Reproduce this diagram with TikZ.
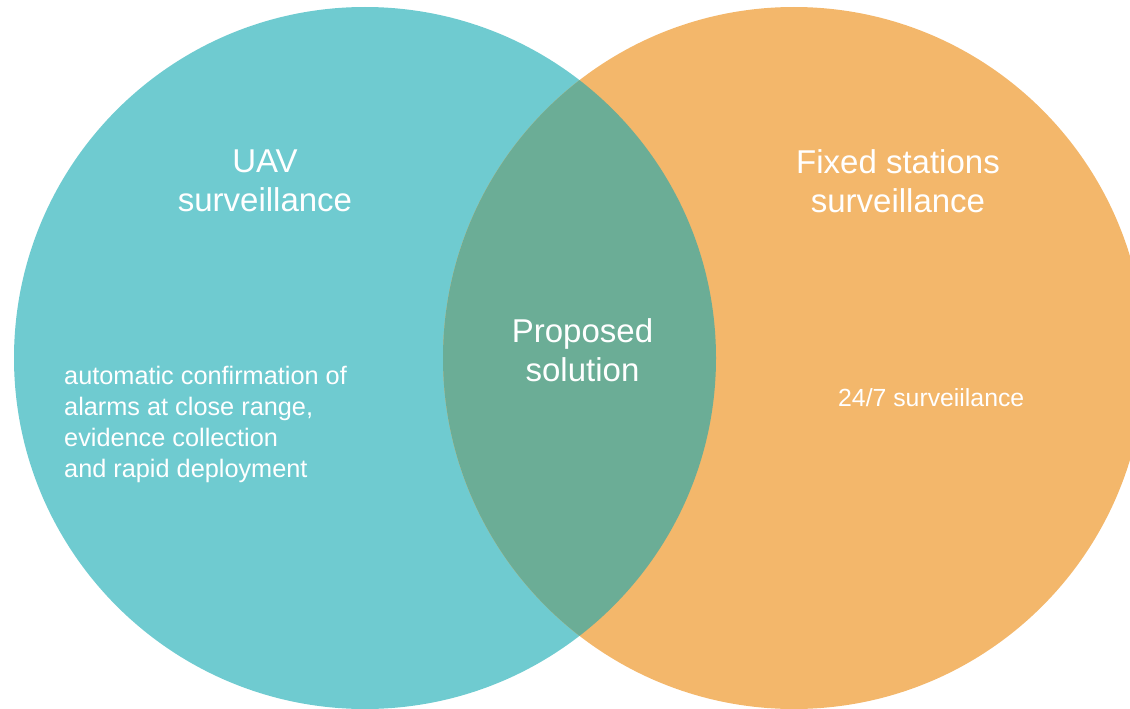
\documentclass[tikz,border=0pt]{standalone}
\usepackage{fontspec}
\setmainfont{Liberation Sans}
\definecolor{uavteal}{HTML}{6FCBD0}
\definecolor{fixedorange}{HTML}{F3B76B}
\definecolor{overlapgreen}{HTML}{6BAD96}
\begin{document}
\begin{tikzpicture}[x=1pt,y=-1pt,
  settitle/.style={text=white, font=\fontsize{33}{39}\selectfont, align=center, inner sep=0pt},
  setbody/.style={text=white, font=\fontsize{25.3}{30.7}\selectfont, align=left, inner sep=0pt},
  setnote/.style={text=white, font=\fontsize{24.8}{29}\selectfont, inner sep=0pt}]
\useasboundingbox (0,0) rectangle (1130,709);
\clip (0,0) rectangle (1130,709);
% the two sets
\fill[uavteal] (365,358) circle[radius=351];
\fill[fixedorange] (794,358) circle[radius=351];
% their intersection
\begin{scope}
  \clip (365,358) circle[radius=351];
  \fill[overlapgreen] (794,358) circle[radius=351];
\end{scope}
% labels
\node[settitle] (uav) at (265,181) {UAV\\surveillance};
\node[settitle] (fixed) at (898,181) {Fixed stations\\surveillance};
\node[settitle] (prop) at (582.5,350) {Proposed\\solution};
\node[setbody, anchor=west] (uavtext) at (64,424.5)
  {automatic confirmation of\\alarms at close range,\\evidence collection\\and rapid deployment};
\node[setnote, anchor=base west] (fixedtext) at (838,406) {24/7 surveiilance};
\end{tikzpicture}
\end{document}
